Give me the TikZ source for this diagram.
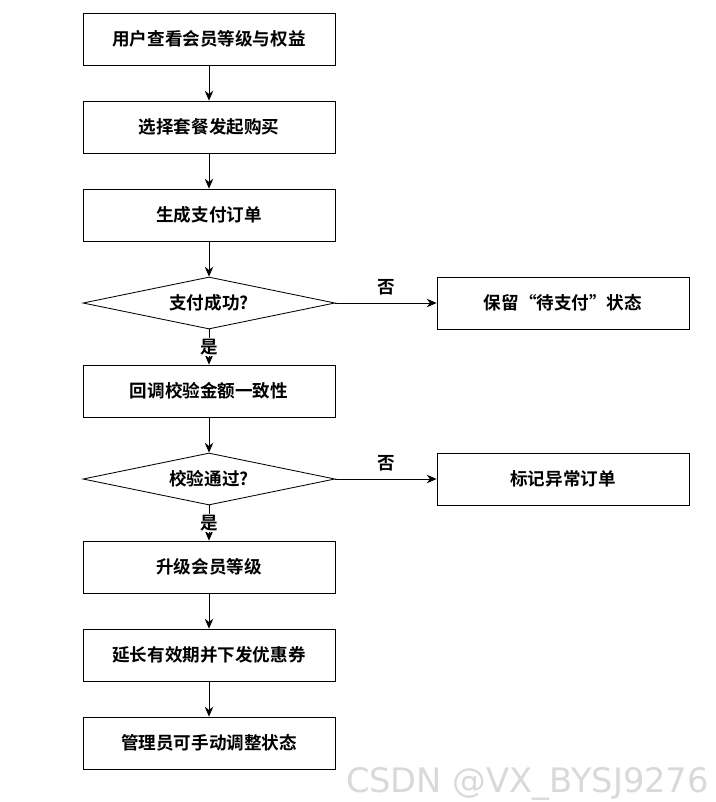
\documentclass[tikz,border=0pt]{standalone}
\usepackage{fontspec}
\newfontfamily\cjk{Noto Sans CJK SC Bold}
\newfontfamily\wmfont{DejaVu Sans}
\usetikzlibrary{shapes.geometric, positioning, arrows.meta}

\begin{document}
\begin{tikzpicture}[%
    >={Stealth[length=7pt,width=6pt]},
    node distance=2.2cm,
    on grid,
    font=\cjk\fontsize{12.5}{14}\selectfont,
    flowbox/.style={draw, minimum width=6.3cm, minimum height=1.3cm},
    check/.style={draw, diamond, aspect=4.85, minimum width=6.3cm, minimum height=1.3cm, inner sep=0pt},
    line width=0.6pt
  ]
  \useasboundingbox (0,0) rectangle (17.9,-20.05);
  \node[flowbox] at (5.225,-0.975) (view) {用户查看会员等级与权益};
  \node[flowbox] (choose) [below= of view] {选择套餐发起购买};
  \node[flowbox] (order) [below= of choose] {生成支付订单};
  \node[check] (paid) [below= of order] {支付成功?};
  \node[flowbox] (keep) [right= 8.85 of paid] {保留“待支付”状态};
  \node[flowbox] (callback) [below= of paid] {回调校验金额一致性};
  \node[check] (valid) [below= of callback] {校验通过?};
  \node[flowbox] (mark) [right= 8.85 of valid] {标记异常订单};
  \node[flowbox] (upgrade) [below= of valid] {升级会员等级};
  \node[flowbox] (extend) [below= of upgrade] {延长有效期并下发优惠券};
  \node[flowbox] (admin) [below= of extend] {管理员可手动调整状态};

  \draw[->] (view) -- (choose);
  \draw[->] (choose) -- (order);
  \draw[->] (order) -- (paid);
  \draw[->] (paid) -- node[above=2pt, pos=0.5] {否} (keep);
  \draw[->] (paid) -- node[pos=0.5, fill=white, inner sep=1pt] {是} (callback);
  \draw[->] (callback) -- (valid);
  \draw[->] (valid) -- node[above=2pt, pos=0.5] {否} (mark);
  \draw[->] (valid) -- node[pos=0.5, fill=white, inner sep=1pt] {是} (upgrade);
  \draw[->] (upgrade) -- (extend);
  \draw[->] (extend) -- (admin);

  \node[text=black!15, font=\wmfont\fontsize{24}{26}\selectfont, anchor=south east] (mark_wm) at (17.85,-20.15) {CSDN @VX\_BYSJ9276};
\end{tikzpicture}
\end{document}
